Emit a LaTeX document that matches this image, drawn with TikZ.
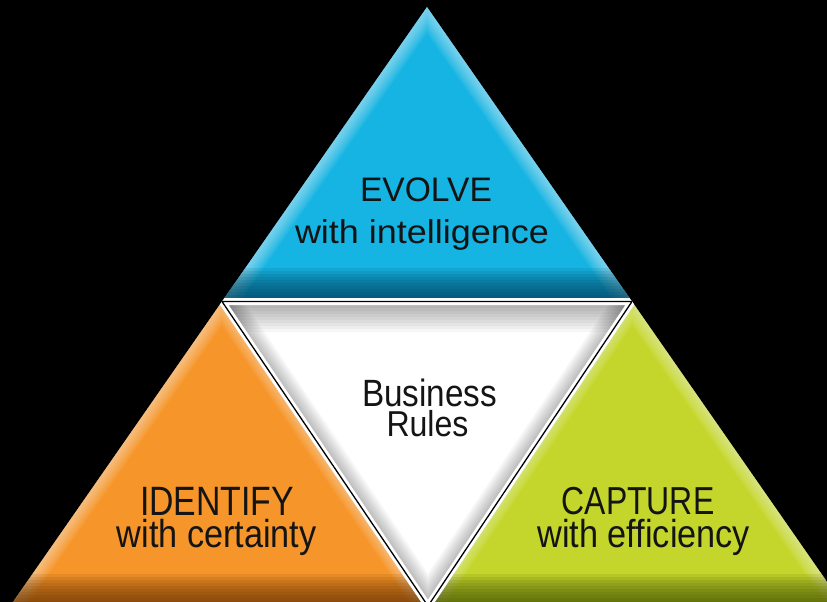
\documentclass[tikz,border=0pt]{standalone}
\usepackage{fontspec}
\setmainfont{Liberation Sans}
\usepackage{graphicx}
\definecolor{cyanbase}{RGB}{22,180,226}
\definecolor{cyandark}{RGB}{0,60,85}
\definecolor{orangebase}{RGB}{246,150,42}
\definecolor{orangedark}{RGB}{95,45,0}
\definecolor{greenbase}{RGB}{196,214,44}
\definecolor{greendark}{RGB}{60,72,0}
\definecolor{ink}{RGB}{20,20,20}
\newlength\fitlen
\newcommand\fitto[2]{\settowidth\fitlen{#2}\pgfmathsetmacro\fitsx{#1/\fitlen}\scalebox{\fitsx}[1]{#2}}
\begin{document}
\begin{tikzpicture}[x=1pt,y=-1pt,
  textlabel/.style={anchor=base, inner sep=0pt, text=ink},
  glow/.style={white, opacity=0.055, line join=round},
  shadowline/.style={black, opacity=0.035, line join=round}]
\useasboundingbox (0,0) rectangle (827,602);
\fill[black] (0,0) rectangle (827,602);
\coordinate (A) at (427,7);
\coordinate (OL) at (6,612);
\coordinate (OR) at (848,612);
\coordinate (W1) at (222,301.5);
\coordinate (W2) at (632,301.5);
\coordinate (W3) at (428,606);
\coordinate (OB) at (432,612);
\coordinate (GB) at (424,612);
% cyan
\begin{scope}
\clip (A) -- (W1) -- (W2) -- cycle;
\fill[cyanbase] (0,0) rectangle (827,310);
\foreach \w in {3,6,...,30} \draw[glow, line width=\w pt] (W1) -- (A) -- (W2);
\foreach \y in {268,271,...,297} \fill[cyandark, opacity=0.11] (0,\y) rectangle (827,310);
\end{scope}
% orange
\begin{scope}
\clip (W1) -- (OL) -- (OB) -- cycle;
\fill[orangebase] (0,290) rectangle (827,620);
\foreach \w in {3,6,...,27} \draw[glow, line width=\w pt] (OL) -- (W1) -- (OB);
\foreach \y in {574,577,...,601} \fill[orangedark, opacity=0.11] (0,\y) rectangle (827,620);
\end{scope}
% green
\begin{scope}
\clip (W2) -- (GB) -- (OR) -- cycle;
\fill[greenbase] (0,290) rectangle (900,620);
\foreach \w in {3,6,...,27} \draw[glow, line width=\w pt] (GB) -- (W2) -- (OR);
\foreach \y in {574,577,...,601} \fill[greendark, opacity=0.11] (0,\y) rectangle (900,620);
\end{scope}
% white
\begin{scope}
\clip (W1) -- (W2) -- (W3) -- cycle;
\fill[white] (W1) -- (W2) -- (W3) -- cycle;
\foreach \w in {6,12,...,60} \draw[shadowline, line width=\w pt] (W1) -- (W2);
\foreach \w in {4,8,...,36} \draw[shadowline, line width=\w pt] (W1) -- (W3) -- (W2);
\end{scope}
% separators
\begin{scope}
\clip (A) -- (OL) -- (OR) -- cycle;
\draw[white, line width=7pt, line join=miter] (W1) -- (W2) -- (W3) -- cycle;
\draw[black, line width=1.3pt, line join=miter] (W1) -- (W2) -- (W3) -- cycle;
\end{scope}
% texts
\node[textlabel] (evolve) at (426,201) {\fontsize{34}{40}\selectfont\fitto{132}{EVOLVE}};
\node[textlabel] (evolvesub) at (422,243) {\fontsize{33}{40}\selectfont\fitto{254}{with intelligence}};
\node[textlabel] (business) at (429.5,406) {\fontsize{38}{40}\selectfont\fitto{135}{Business}};
\node[textlabel] (rules) at (427.5,436) {\fontsize{36}{40}\selectfont\fitto{82}{Rules}};
\node[textlabel] (identify) at (217,515) {\fontsize{41}{40}\selectfont\fitto{154}{IDENTIFY}};
\node[textlabel] (identifysub) at (216.7,547) {\fontsize{39}{40}\selectfont\fitto{200}{with certainty}};
\node[textlabel] (capture) at (638,514.3) {\fontsize{39}{40}\selectfont\fitto{152.7}{CAPTURE}};
\node[textlabel] (capturesub) at (643.7,547.3) {\fontsize{39}{40}\selectfont\fitto{212.7}{with efficiency}};
\end{tikzpicture}
\end{document}
